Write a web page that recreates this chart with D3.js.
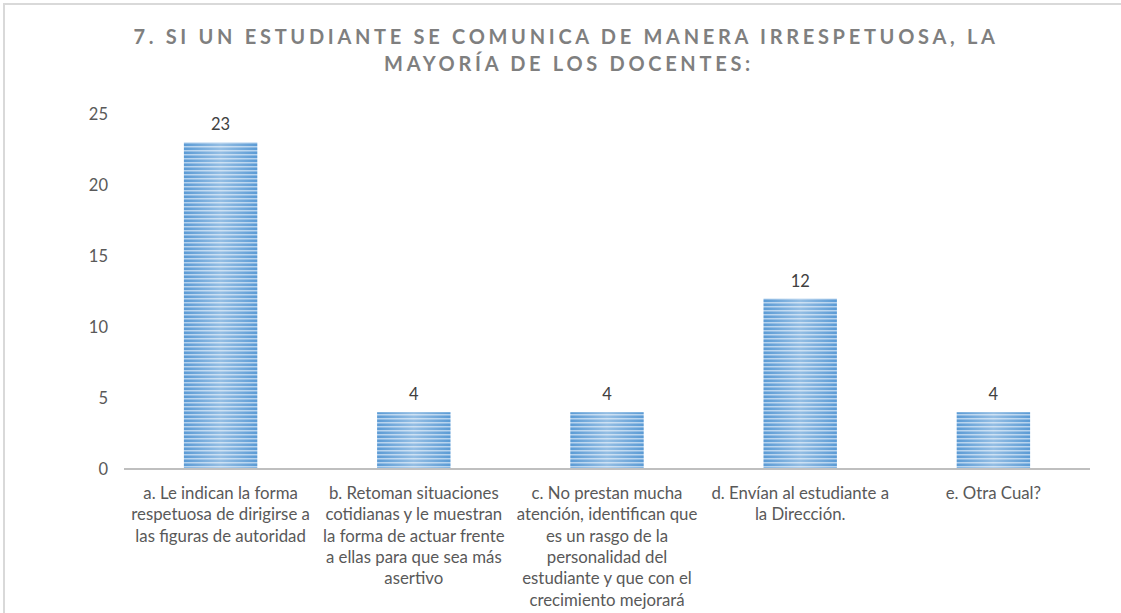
<!DOCTYPE html>
<html>
<head>
<meta charset="utf-8">
<script src="https://cdn.jsdelivr.net/npm/d3@7"></script>
<style>
  body { margin: 0; background: #fff; }
  svg { display: block; font-family: Lato, "Open Sans", sans-serif; }
</style>
</head>
<body>
<svg id="chart" width="1121" height="613"></svg>
<script>
// chart data
const categories = ['a', 'b', 'c', 'd', 'e']
const values = [23, 4, 4, 12, 4]
const categoryLabels = [
  ['a. Le indican la forma', 'respetuosa de dirigirse a', 'las figuras de autoridad'],
  ['b. Retoman situaciones', 'cotidianas y le muestran', 'la forma de actuar frente', 'a ellas para que sea más', 'asertivo'],
  ['c. No prestan mucha', 'atención, identifican que', 'es un rasgo de la', 'personalidad del', 'estudiante y que con el', 'crecimiento mejorará'],
  ['d. Envían al estudiante a', 'la Dirección.'],
  ['e. Otra Cual?']
]
const yTicks = [0, 5, 10, 15, 20, 25]
const titleLines = ['7. SI UN ESTUDIANTE SE COMUNICA DE MANERA IRRESPETUOSA, LA', 'MAYORÍA DE LOS DOCENTES:']

const svg = d3.select('#chart')
const plotLeft = 124, plotRight = 1090, plotTop = 114, plotBottom = 469

// outer frame
svg.append('rect')
  .attr('x', 4).attr('y', 4).attr('width', 1130).attr('height', 640)
  .attr('fill', 'none').attr('stroke', '#d9d9d9').attr('stroke-width', 2)

// stripes + light sheen for the bars
const defs = svg.append('defs')
const pat = defs.append('pattern').attr('id', 'stripes')
  .attr('patternUnits', 'userSpaceOnUse').attr('width', 8).attr('height', 4)
pat.append('rect').attr('width', 8).attr('height', 4).attr('fill', '#5b9bd5')
pat.append('rect').attr('y', 2).attr('width', 8).attr('height', 1.5).attr('fill', '#b4d2ee')
const grad = defs.append('linearGradient').attr('id', 'sheen')
grad.append('stop').attr('offset', '0%').attr('stop-color', '#fff').attr('stop-opacity', 0)
grad.append('stop').attr('offset', '50%').attr('stop-color', '#fff').attr('stop-opacity', 0.35)
grad.append('stop').attr('offset', '100%').attr('stop-color', '#fff').attr('stop-opacity', 0)

// title
const title = svg.append('text').attr('text-anchor', 'middle')
  .attr('fill', '#7f7f7f').attr('font-size', 20).attr('font-weight', 'bold')
  .style('letter-spacing', '3.7px')
title.append('tspan').attr('x', 566).attr('y', 44).text(titleLines[0])
title.append('tspan').attr('x', 569).attr('y', 71).text(titleLines[1])

const x = d3.scaleBand().domain(categories).range([plotLeft, plotRight])
  .paddingInner(0.62).paddingOuter(0.31)
const y = d3.scaleLinear().domain([0, 25]).range([plotBottom, plotTop])

// y tick labels (no gridlines in the original)
svg.append('g').selectAll('text').data(yTicks).join('text')
  .attr('x', 108).attr('y', d => y(d)).attr('dy', '0.35em')
  .attr('text-anchor', 'end').attr('fill', '#595959').attr('font-size', 16.5)
  .text(d => d)

// bars
const bars = svg.append('g')
bars.selectAll('rect.bar').data(values).join('rect')
  .attr('class', 'bar')
  .attr('x', (d, i) => x(categories[i]))
  .attr('y', d => y(d))
  .attr('width', x.bandwidth())
  .attr('height', d => plotBottom - y(d))
  .attr('fill', 'url(#stripes)')
bars.selectAll('rect.sheen').data(values).join('rect')
  .attr('class', 'sheen')
  .attr('x', (d, i) => x(categories[i]))
  .attr('y', d => y(d))
  .attr('width', x.bandwidth())
  .attr('height', d => plotBottom - y(d))
  .attr('fill', 'url(#sheen)')

// value labels
svg.append('g').selectAll('text').data(values).join('text')
  .attr('x', (d, i) => x(categories[i]) + x.bandwidth() / 2)
  .attr('y', d => y(d) - 12)
  .attr('text-anchor', 'middle').attr('fill', '#404040').attr('font-size', 16.5)
  .text(d => d)

// x axis baseline
svg.append('line')
  .attr('x1', plotLeft).attr('x2', plotRight).attr('y1', plotBottom).attr('y2', plotBottom)
  .attr('stroke', '#bfbfbf').attr('stroke-width', 2)

// category labels
const catG = svg.append('g').selectAll('text').data(categoryLabels).join('text')
  .attr('text-anchor', 'middle').attr('fill', '#595959').attr('font-size', 16.8)
catG.each(function (lines, i) {
  const cx = x(categories[i]) + x.bandwidth() / 2
  d3.select(this).selectAll('tspan').data(lines).join('tspan')
    .attr('x', cx).attr('y', (d, j) => 499 + j * 21.3).text(d => d)
})
</script>
</body>
</html>
